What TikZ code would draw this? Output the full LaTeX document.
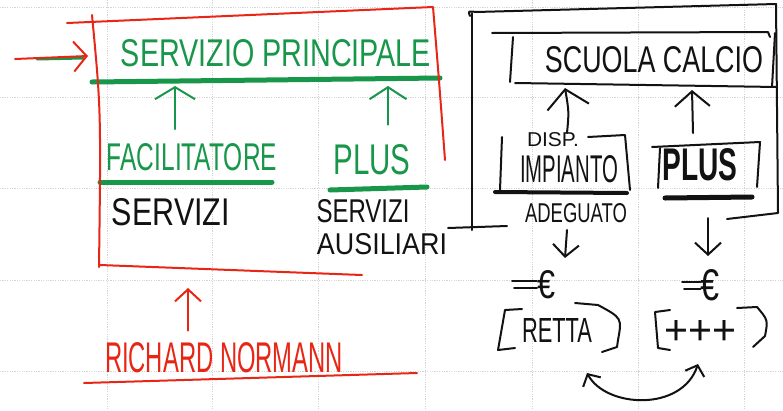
\documentclass[tikz,border=0pt]{standalone}
\usepackage{fontspec}
\setmainfont{Liberation Sans}
\usetikzlibrary{arrows.meta}
\definecolor{inkred}{RGB}{232,38,22}
\definecolor{inkgreen}{RGB}{24,150,74}
\definecolor{inkblack}{RGB}{18,18,18}
\definecolor{gridgray}{RGB}{212,212,212}
% text squeezed into a given width x cap height (in pt)
\newcommand{\hw}[3]{\resizebox{#1pt}{#2pt}{#3}}

\begin{document}
\begin{tikzpicture}[x=1pt,y=-1pt,
  pen/.style={line width=2pt,line cap=round,line join=round},
  fatpen/.style={line width=5pt,line cap=round},
  redpen/.style={pen,draw=inkred},
  greenpen/.style={pen,draw=inkgreen},
  blackpen/.style={pen,draw=inkblack},
  gridline/.style={draw=gridgray,line width=0.9pt,dash pattern=on 1.2pt off 1.2pt},
  lbl/.style={inner sep=0pt,anchor=center},
  wideup/.style={-{Straight Barb[length=12pt,width=40pt]}},
  smalltip/.style={-{Straight Barb[length=12pt,width=26pt]}},
  bothtips/.style={{Straight Barb[length=9pt,width=20pt]}-{Straight Barb[length=9pt,width=20pt]}}
]
\useasboundingbox (0,0) rectangle (783,410);
\fill[white] (0,0) rectangle (783,410);

% squared paper
\foreach \gx in {107,212,318,425,532,638,744}
  \draw[gridline] (\gx,0) -- (\gx,410);
\foreach \gy in {7,97,188,280,371}
  \draw[gridline] (0,\gy) -- (783,\gy);

% ---------------- left block: service structure ----------------
\node[lbl,text=inkgreen] (princ) at (276,53) {\hw{310}{27}{SERVIZIO PRINCIPALE}};
\node[lbl,text=inkgreen] (facil) at (192,157) {\hw{170}{27}{FACILITATORE}};
\node[lbl,text=inkgreen] (plusg) at (372,160) {\hw{77}{30}{PLUS}};
\node[lbl,text=inkblack] (serv1) at (171,212) {\hw{118}{27}{SERVIZI}};
\node[lbl,text=inkblack] (serv2) at (363,211) {\hw{93}{23}{SERVIZI}};
\node[lbl,text=inkblack] (ausil) at (382,244) {\hw{130}{21}{AUSILIARI}};
\node[lbl,text=inkred] (normann) at (224,358) {\hw{238}{30}{RICHARD NORMANN}};

% green underlines
\coordinate (pl) at (92,82);  \coordinate (pr) at (440,78);
\draw[fatpen,draw=inkgreen] (pl) -- (pr);
\draw[fatpen,draw=inkgreen] (100,182) -- (272,182);
\draw[fatpen,draw=inkgreen] (330,190) -- (427,187);
\draw[line width=3pt,line cap=round,draw=inkgreen] (37,59) -- (83,58);

% green arrows up to the main service line
\coordinate (fa) at (175,86);
\coordinate (pa) at (388,86);
\draw[greenpen,wideup] (facil.north -| fa) ++(0,-14) -- (fa);
\draw[greenpen,-{Straight Barb[length=12pt,width=37pt]}] (plusg.north -| pa) ++(0,-20) -- (pa);

% red frame
\draw[redpen] (67,23) -- (433,7) .. controls (439,80) .. (445,160);
\draw[redpen] (92,15) .. controls (101,110) .. (99,267);
\draw[redpen] (100,265) -- (362,275);
\coordinate (redtail) at (15,59);
\coordinate (redhead) at (88,56);
\draw[redpen,-{Straight Barb[length=13pt,width=30pt]}] (redtail) -- (redhead);

% red arrow from the author to the frame
\coordinate (rtop) at (188,288);
\draw[redpen,-{Straight Barb[length=12pt,width=26pt]}] (normann.north -| rtop) ++(0,-12) -- (rtop);
\draw[redpen] (84,383) -- (417,373);

% ---------------- right block: scuola calcio ----------------
\node[lbl,text=inkblack] (scuola) at (654,60) {\hw{218}{26}{SCUOLA CALCIO}};
\node[lbl,text=inkblack] (disp) at (553,140) {\hw{52}{14}{DISP.}};
\node[lbl,text=inkblack] (impianto) at (569,169) {\hw{98}{27}{IMPIANTO}};
\node[lbl,text=inkblack] (plusb) at (700,165) {\hw{75}{32}{\bfseries PLUS}};
\node[lbl,text=inkblack] (adeg) at (576,213) {\hw{102}{19}{ADEGUATO}};
\node[lbl,text=inkblack] (eur1) at (546,285) {\hw{18}{28}{€}};
\node[lbl,text=inkblack] (eur2) at (710,285) {\hw{19}{31}{€}};
\node[lbl,text=inkblack] (retta) at (557,330) {\hw{70}{24}{RETTA}};
\node[lbl,text=inkblack] (piu) at (700,332) {\hw{72}{24}{+++}};

% long bars of the euro signs
\draw[blackpen] (512,281) -- (eur1.west |- 0,281);
\draw[blackpen] (514,288) -- (eur1.west |- 0,288);
\draw[blackpen] (682,282) -- (eur2.west |- 0,282);
\draw[blackpen] (684,289) -- (eur2.west |- 0,289);

% outer frame
\draw[blackpen] (470,16) .. controls (468,11) .. (476,12) -- (776,4) -- (778,213) -- (727,219);
\draw[blackpen] (472,13) -- (472,230);
\draw[blackpen] (448,228) -- (507,226);

% inner frame round SCUOLA CALCIO
\draw[blackpen] (492,33) -- (768,32) -- (770,37);
\draw[blackpen] (513,37) -- (510,82);
\draw[blackpen] (515,83) -- (777,87);
\draw[blackpen] (775,33) -- (772,87);

% box round IMPIANTO
\draw[blackpen] (502,137) -- (500,190);
\draw[blackpen] (588,137) -- (625,135) -- (630,190);
\draw[line width=4pt,line cap=round,draw=inkblack] (495,192) -- (627,193);

% box round PLUS
\draw[blackpen] (652,147) -- (760,142) -- (757,187);
\draw[blackpen] (660,148) -- (658,188);
\draw[fatpen,draw=inkblack] (665,198) -- (752,197);

% arrows up into SCUOLA CALCIO
\coordinate (sa1) at (565,88);
\coordinate (sa2) at (692,90);
\coordinate (sb1) at (567,133);
\coordinate (sb2) at (693,133);
\draw[blackpen,-{Straight Barb[length=18pt,width=42pt]}] (sb1) .. controls (569,112) .. (sa1);
\draw[blackpen,-{Straight Barb[length=15pt,width=35pt]}] (sb2) -- (sa2);

% arrows down to the prices
\coordinate (d1s) at (567,230); \coordinate (d1e) at (565,258);
\coordinate (d2s) at (708,218); \coordinate (d2e) at (708,256);
\draw[blackpen,smalltip] (d1s) -- (d1e);
\draw[blackpen,smalltip] (d2s) -- (d2e);

% brackets
\draw[blackpen] (522,309) -- (505,310) -- (498,350) -- (515,348);
\draw[blackpen] (575,303) -- (598,305) .. controls (622,318) .. (618,340) -- (617,347) -- (602,352);
\draw[blackpen] (670,310) -- (655,312) -- (658,348) -- (670,350);
\draw[blackpen] (737,308) -- (757,307) .. controls (768,320) .. (765,336) -- (753,347);

% exchange between fee and extras
\coordinate (cl) at (587,373);
\coordinate (cr) at (698,364);
\draw[blackpen,bothtips] (cl) .. controls (606,408) and (682,412) .. (cr);
\end{tikzpicture}
\end{document}
